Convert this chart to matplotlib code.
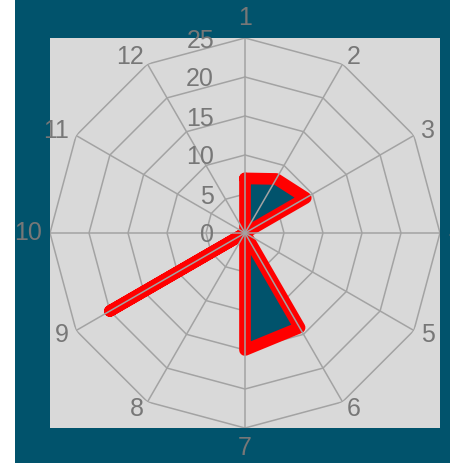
import numpy as np
import matplotlib
matplotlib.use("Agg")
import matplotlib.pyplot as plt
from matplotlib.patches import Rectangle
from matplotlib.transforms import offset_copy

# ---- data ----
categories = ["1", "2", "3", "4", "5", "6", "7", "8", "9", "10", "11", "12"]
values = [7, 8, 9, 0, 0, 14, 15, 0, 20, 0, 0, 0]
rticks = [0, 5, 10, 15, 20, 25]
rmax = 25

# ---- style ----
TEAL = "#01536c"
PLOT_BG = "#d9d9d9"
GRID = "#a3a3a3"
TEXT = "#777777"
RED = "#ff0000"
plt.rcParams["font.family"] = ["Liberation Sans", "DejaVu Sans"]

W, H = 450, 463
fig = plt.figure(figsize=(W / 100, H / 100), dpi=100)
fig.patch.set_facecolor(TEAL)

# axes box (square plot area)
left, top, side = 50, 38, 390
rect = [left / W, (H - top - side) / H, side / W, side / H]
fig.add_artist(Rectangle((rect[0], rect[1]), rect[2], rect[3], transform=fig.transFigure,
                         facecolor=PLOT_BG, edgecolor="none", zorder=-1))
# white strip at left edge
fig.add_artist(Rectangle((0, 0), 15 / W, 1, transform=fig.transFigure,
                         facecolor="white", edgecolor="none", zorder=10))

ax = fig.add_axes(rect, projection="polar")
ax.set_theta_zero_location("N")
ax.set_theta_direction(-1)
ax.set_ylim(0, rmax)
ax.grid(False)
ax.spines["polar"].set_visible(False)
ax.set_xticks([])
ax.set_yticks([])
ax.patch.set_visible(False)

n = len(categories)
theta = np.arange(n) * 2 * np.pi / n
theta_c = np.append(theta, theta[0])

# rings (polygon grid)
for v in rticks[1:]:
    ax.plot(theta_c, [v] * (n + 1), color=GRID, lw=1.1, zorder=1)

# data
vals_c = np.append(values, values[0])
ax.fill(theta_c, vals_c, color=TEAL, lw=0, zorder=2)
ax.plot(theta_c, vals_c, color=RED, lw=8.4, solid_joinstyle="round",
        solid_capstyle="round", zorder=3)

# spokes
for t in theta:
    ax.plot([t, t], [0, rmax], color=GRID, lw=1.1, zorder=4)

# radial labels
for v in rticks:
    tr = offset_copy(ax.transData, fig=fig, x=-31, y=-2.5, units="dots")
    ax.text(0, v, str(v), transform=tr, ha="right", va="center",
            fontsize=18, color=TEXT, zorder=5)

# category labels
pad = 8
for t, lab in zip(theta, categories):
    s, c = np.sin(t), np.cos(t)
    ha = "center" if abs(s) < 1e-6 else ("left" if s > 0 else "right")
    if abs(c) > 0.999:
        va = "bottom" if c > 0 else "top"
    else:
        va = "center"
    tr = offset_copy(ax.transData, fig=fig, x=pad * s, y=pad * c, units="dots")
    ax.text(t, rmax, lab, transform=tr, ha=ha, va=va, fontsize=18, color=TEXT)

fig.savefig("out.png", dpi=100, facecolor=fig.get_facecolor())
